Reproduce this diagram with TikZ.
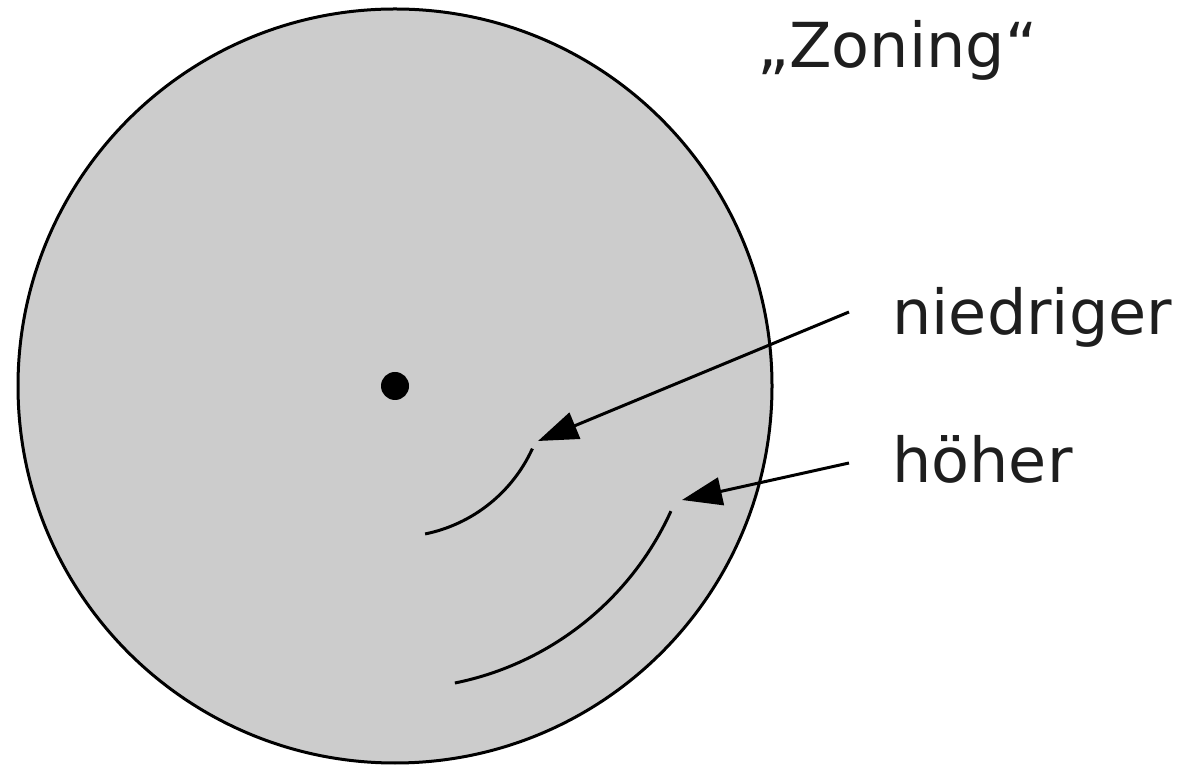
\documentclass[tikz,border=0pt]{standalone}
\usepackage{fontspec}
\setmainfont{DejaVu Sans}
\usepackage{xcolor}
\usetikzlibrary{arrows.meta, positioning}
\definecolor{scheibe}{RGB}{204,204,204}
\definecolor{schrift}{RGB}{30,30,30}

\begin{document}
\begin{tikzpicture}[x=0.5pt, y=0.5pt, >={Triangle[length=20pt, width=14pt]},
        lbl/.style={font=\fontsize{31}{36}\selectfont, text=schrift,
                    inner sep=0pt, anchor=base west},
        spur/.style={line width=1.5pt},
        zeiger/.style={line width=1.5pt, ->}]

      \useasboundingbox (0,0) rectangle (1198,765);

      % Scheibe mit Mittelpunkt
      \coordinate (ctr) at (395,379);
      \draw[fill=scheibe, line width=1.5pt] (ctr) circle[radius=377];
      \fill (ctr) circle[radius=14];

      % Spuren
      \draw[spur] ([shift={(-78.5:151)}]ctr) arc[start angle=-78.5, end angle=-24.5, radius=151];
      \draw[spur] ([shift={(-78.6:303)}]ctr) arc[start angle=-78.6, end angle=-24.4, radius=303];

      % Beschriftung
      \node[lbl] (zon) at (757,697) {„Zoning“};
      \node[lbl] (nied) at (892,430) {niedriger};
      \node[lbl] (hoeh) at (892,282) {höher};

      \coordinate (n0) at (849,453);
      \coordinate (n1) at (538,324);
      \coordinate (h0) at (849,302);
      \coordinate (h1) at (682,265);
      \draw[zeiger] (n0) -- (n1);
      \draw[zeiger] (h0) -- (h1);
    \end{tikzpicture}
\end{document}
